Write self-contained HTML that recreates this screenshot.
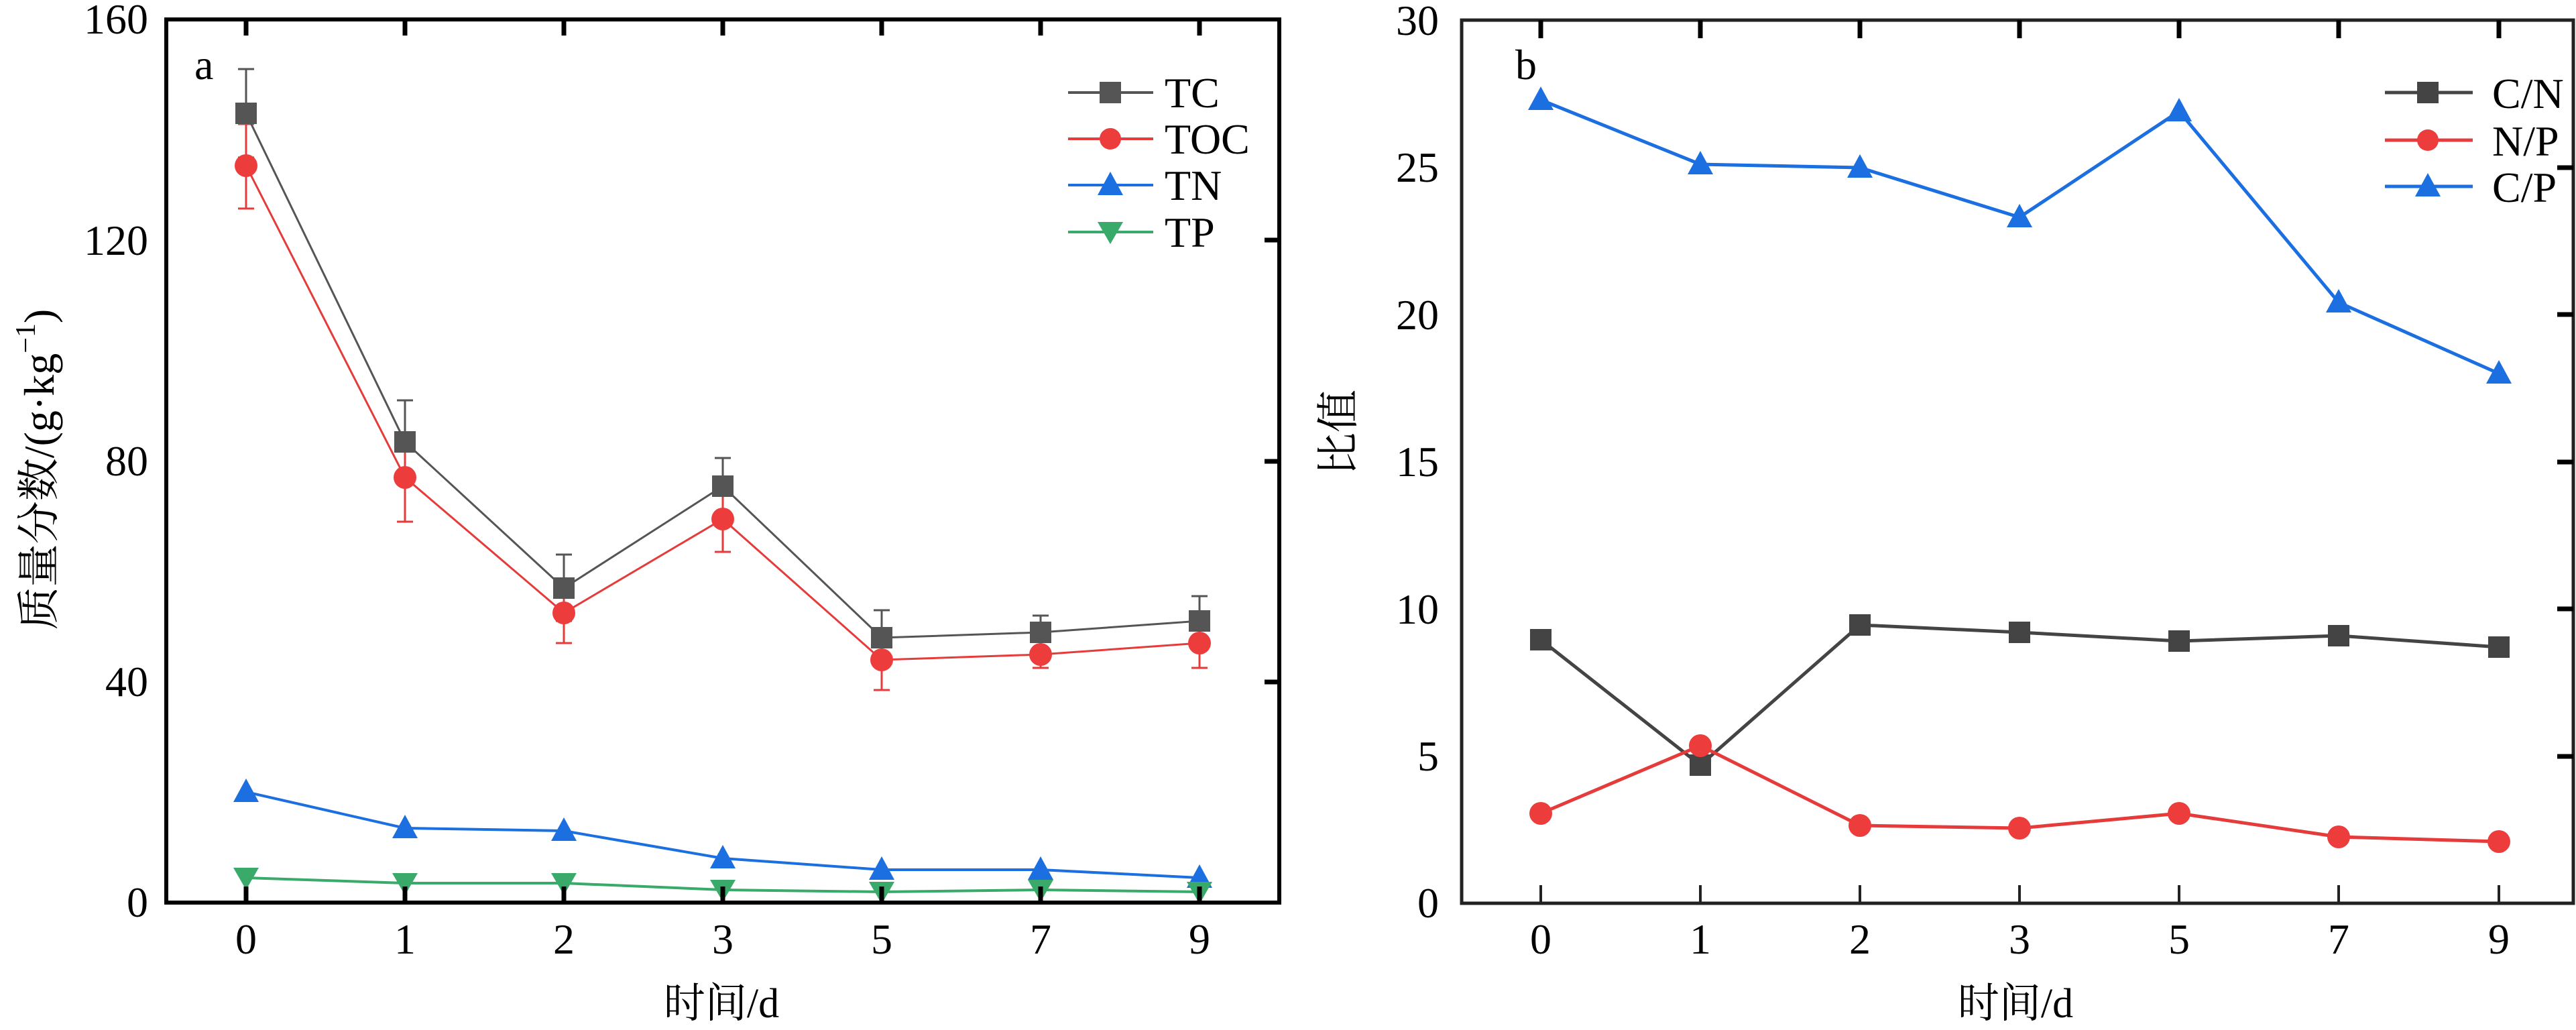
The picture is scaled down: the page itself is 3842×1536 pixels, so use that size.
<!DOCTYPE html>
<html><head><meta charset="utf-8"><style>html,body{margin:0;padding:0;background:#fff}svg{display:block}</style></head>
<body>
<svg width="3842" height="1536" viewBox="0 0 3842 1536" xmlns="http://www.w3.org/2000/svg" font-family="'Liberation Serif','Noto Serif CJK SC',serif">
<defs>
<rect id="sq" x="-16" y="-16" width="32" height="32"/>
<path id="tu" d="M0,-20 L19,15 L-19,15 Z"/>
<path id="td" d="M0,18 L19,-15 L-19,-15 Z"/>
</defs>

<!-- ===== LEFT PANEL ===== -->
<g>
<!-- error bars TC -->
<g stroke="#555" stroke-width="3" fill="none">
<path d="M367,103V235M355,103H379M355,235H379"/>
<path d="M604,597V720M592,597H616M592,720H616"/>
<path d="M841,827V926M829,827H853M829,926H853"/>
<path d="M1078,683V770M1066,683H1090M1066,770H1090"/>
<path d="M1315,910V992M1303,910H1327M1303,992H1327"/>
<path d="M1552,918V967M1540,918H1564M1540,967H1564"/>
<path d="M1789,889V959M1777,889H1801M1777,959H1801"/>
</g>
<g stroke="#e53b3b" stroke-width="3" fill="none">
<path d="M367,185V311M355,185H379M355,311H379"/>
<path d="M604,646V778M592,646H616M592,778H616"/>
<path d="M841,869V959M829,869H853M829,959H853"/>
<path d="M1078,725V823M1066,725H1090M1066,823H1090"/>
<path d="M1315,939V1029M1303,939H1327M1303,1029H1327"/>
<path d="M1552,955V996M1540,955H1564M1540,996H1564"/>
<path d="M1789,922V996M1777,922H1801M1777,996H1801"/>
</g>
<!-- lines -->
<polyline fill="none" stroke="#555" stroke-width="3" points="367,169 604,659 841,877 1078,725 1315,951 1552,943 1789,926"/>
<polyline fill="none" stroke="#e53b3b" stroke-width="3" points="367,247 604,712 841,914 1078,774 1315,984 1552,976 1789,959"/>
<polyline fill="none" stroke="#1b6fe0" stroke-width="4" points="367,1181 604,1235 841,1239 1078,1280 1315,1297 1552,1297 1789,1309"/>
<polyline fill="none" stroke="#3aaa6a" stroke-width="4" points="367,1309 604,1317 841,1317 1078,1327 1315,1330 1552,1327 1789,1330"/>
<!-- markers -->
<g fill="#555"><use href="#sq" x="367" y="169"/><use href="#sq" x="604" y="659"/><use href="#sq" x="841" y="877"/><use href="#sq" x="1078" y="725"/><use href="#sq" x="1315" y="951"/><use href="#sq" x="1552" y="943"/><use href="#sq" x="1789" y="926"/></g>
<g fill="#ec3c3c"><circle cx="367" cy="247" r="17"/><circle cx="604" cy="712" r="17"/><circle cx="841" cy="914" r="17"/><circle cx="1078" cy="774" r="17"/><circle cx="1315" cy="984" r="17"/><circle cx="1552" cy="976" r="17"/><circle cx="1789" cy="959" r="17"/></g>
<g fill="#1b6fe0"><use href="#tu" x="367" y="1181"/><use href="#tu" x="604" y="1235"/><use href="#tu" x="841" y="1239"/><use href="#tu" x="1078" y="1280"/><use href="#tu" x="1315" y="1297"/><use href="#tu" x="1552" y="1297"/><use href="#tu" x="1789" y="1309"/></g>
<g fill="#3aaa6a"><use href="#td" x="367" y="1309"/><use href="#td" x="604" y="1317"/><use href="#td" x="841" y="1317"/><use href="#td" x="1078" y="1327"/><use href="#td" x="1315" y="1330"/><use href="#td" x="1552" y="1327"/><use href="#td" x="1789" y="1330"/></g>
<!-- axes -->
<rect x="248" y="29" width="1660" height="1317" fill="none" stroke="#000" stroke-width="6"/>
<g stroke="#000" stroke-width="7">
<path d="M367,29v24M604,29v24M841,29v24M1078,29v24M1315,29v24M1552,29v24M1789,29v24"/>
<path d="M367,1346v-24M604,1346v-24M841,1346v-24M1078,1346v-24M1315,1346v-24M1552,1346v-24M1789,1346v-24"/>
<path d="M1908,358h-22M1908,688h-22M1908,1017h-22"/>
</g>
<g font-size="64" text-anchor="end" fill="#000">
<text x="221" y="50">160</text><text x="221" y="380">120</text><text x="221" y="709">80</text><text x="221" y="1038">40</text><text x="221" y="1367">0</text>
</g>
<g font-size="64" text-anchor="middle" fill="#000">
<text x="367" y="1422">0</text><text x="604" y="1422">1</text><text x="841" y="1422">2</text><text x="1078" y="1422">3</text><text x="1315" y="1422">5</text><text x="1552" y="1422">7</text><text x="1789" y="1422">9</text>
</g>
<text x="290" y="118" font-size="64">a</text>
<text x="1076" y="1517" font-size="62" text-anchor="middle">时间/d</text>
<text transform="translate(80,700) rotate(-90)" font-size="64" text-anchor="middle">质量分数/(g·kg<tspan font-size="42" dy="-28">−1</tspan><tspan dy="28">)</tspan></text>
<!-- legend -->
<g stroke-width="4" fill="none">
<path d="M1593,138H1720" stroke="#555"/><path d="M1593,207H1720" stroke="#e53b3b"/><path d="M1593,276H1720" stroke="#1b6fe0"/><path d="M1593,346H1720" stroke="#3aaa6a"/>
</g>
<use href="#sq" x="1656" y="138" fill="#555"/><circle cx="1656" cy="207" r="16" fill="#ec3c3c"/><use href="#tu" x="1656" y="276" fill="#1b6fe0"/><use href="#td" x="1656" y="346" fill="#3aaa6a"/>
<g font-size="64" fill="#000"><text x="1737" y="160">TC</text><text x="1737" y="229">TOC</text><text x="1737" y="298">TN</text><text x="1737" y="368">TP</text></g>
</g>

<!-- ===== RIGHT PANEL ===== -->
<g>
<polyline fill="none" stroke="#1b6fe0" stroke-width="5" points="2298,149 2536,245 2774,250 3012,324 3250,166 3488,451 3727,557"/>
<polyline fill="none" stroke="#444" stroke-width="5" points="2298,954 2536,1141 2774,932 3012,943 3250,956 3488,948 3727,965"/>
<polyline fill="none" stroke="#e53b3b" stroke-width="5" points="2298,1213 2536,1112 2774,1231 3012,1235 3250,1213 3488,1248 3727,1255"/>
<g fill="#1b6fe0"><use href="#tu" x="2298" y="149"/><use href="#tu" x="2536" y="245"/><use href="#tu" x="2774" y="250"/><use href="#tu" x="3012" y="324"/><use href="#tu" x="3250" y="166"/><use href="#tu" x="3488" y="451"/><use href="#tu" x="3727" y="557"/></g>
<g fill="#444"><use href="#sq" x="2298" y="954"/><use href="#sq" x="2536" y="1141"/><use href="#sq" x="2774" y="932"/><use href="#sq" x="3012" y="943"/><use href="#sq" x="3250" y="956"/><use href="#sq" x="3488" y="948"/><use href="#sq" x="3727" y="965"/></g>
<g fill="#ec3c3c"><circle cx="2298" cy="1213" r="17"/><circle cx="2536" cy="1112" r="17"/><circle cx="2774" cy="1231" r="17"/><circle cx="3012" cy="1235" r="17"/><circle cx="3250" cy="1213" r="17"/><circle cx="3488" cy="1248" r="17"/><circle cx="3727" cy="1255" r="17"/></g>
<rect x="2180" y="30" width="1658" height="1317" fill="none" stroke="#222" stroke-width="5"/>
<g stroke="#000" stroke-width="7">
<path d="M2298,30v27M2536,30v27M2774,30v27M3012,30v27M3250,30v27M3488,30v27M3727,30v27"/>
<path d="M3838,250h-24M3838,469h-24M3838,689h-24M3838,908h-24M3838,1128h-24"/>
</g>
<g stroke="#222" stroke-width="4"><path d="M2298,1347v-27M2536,1347v-27M2774,1347v-27M3012,1347v-27M3250,1347v-27M3488,1347v-27M3727,1347v-27"/></g>
<g font-size="64" text-anchor="end" fill="#000">
<text x="2146" y="52">30</text><text x="2146" y="271">25</text><text x="2146" y="491">20</text><text x="2146" y="710">15</text><text x="2146" y="930">10</text><text x="2146" y="1149">5</text><text x="2146" y="1368">0</text>
</g>
<g font-size="64" text-anchor="middle" fill="#000">
<text x="2298" y="1422">0</text><text x="2536" y="1422">1</text><text x="2774" y="1422">2</text><text x="3012" y="1422">3</text><text x="3250" y="1422">5</text><text x="3488" y="1422">7</text><text x="3727" y="1422">9</text>
</g>
<text x="2260" y="118" font-size="64">b</text>
<text x="3006" y="1517" font-size="62" text-anchor="middle">时间/d</text>
<text transform="translate(2018,645) rotate(-90)" font-size="64" text-anchor="middle">比值</text>
<g stroke-width="5" fill="none">
<path d="M3557,138H3688" stroke="#444"/><path d="M3557,209H3688" stroke="#e53b3b"/><path d="M3557,278H3688" stroke="#1b6fe0"/>
</g>
<use href="#sq" x="3621" y="138" fill="#444"/><circle cx="3621" cy="209" r="16" fill="#ec3c3c"/><use href="#tu" x="3621" y="278" fill="#1b6fe0"/>
<g font-size="64" fill="#000"><text x="3717" y="161">C/N</text><text x="3717" y="232">N/P</text><text x="3717" y="301">C/P</text></g>
</g>
</svg>
</body></html>
